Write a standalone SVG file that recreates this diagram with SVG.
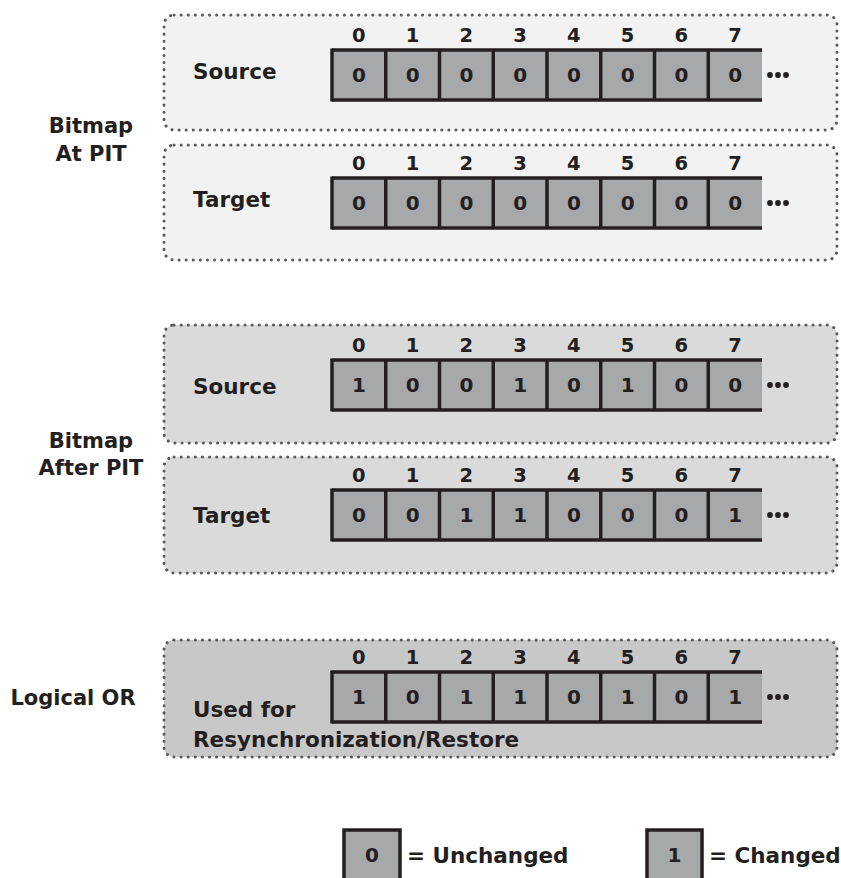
<svg xmlns="http://www.w3.org/2000/svg" width="841" height="878" viewBox="0 0 841 878">
<style>
text{font-family:"DejaVu Sans","Verdana",sans-serif;font-weight:bold;fill:#231f20}
.lbl{font-size:21.5px}
.idx{font-size:19.5px;text-anchor:middle}
.val{font-size:20px;text-anchor:middle}
.side{font-size:21px;text-anchor:middle}
.panel{stroke:#5a5a5a;stroke-width:3;stroke-dasharray:0.1 7;stroke-linecap:round}
.cellbg{fill:#a7a8aa;stroke:none}
.ln{stroke:#231f20;stroke-width:3.5;fill:none}
.dot{fill:#231f20}
</style>
<defs>
<g id="row">
<rect class="cellbg" x="332" y="0" width="430" height="50"/>
<line class="ln" x1="332" y1="0" x2="762" y2="0"/>
<line class="ln" x1="332" y1="50" x2="762" y2="50"/>
<line class="ln" x1="332" y1="-1.5" x2="332" y2="51.5"/>
<line class="ln" x1="385.75" y1="0" x2="385.75" y2="50"/>
<line class="ln" x1="439.5" y1="0" x2="439.5" y2="50"/>
<line class="ln" x1="493.25" y1="0" x2="493.25" y2="50"/>
<line class="ln" x1="547" y1="0" x2="547" y2="50"/>
<line class="ln" x1="600.75" y1="0" x2="600.75" y2="50"/>
<line class="ln" x1="654.5" y1="0" x2="654.5" y2="50"/>
<line class="ln" x1="708.25" y1="0" x2="708.25" y2="50"/>
<circle class="dot" cx="770" cy="25" r="2.9"/>
<circle class="dot" cx="778" cy="25" r="2.9"/>
<circle class="dot" cx="786" cy="25" r="2.9"/>
<text class="idx" x="358.9" y="-8">0</text>
<text class="idx" x="412.6" y="-8">1</text>
<text class="idx" x="466.4" y="-8">2</text>
<text class="idx" x="520.1" y="-8">3</text>
<text class="idx" x="573.9" y="-8">4</text>
<text class="idx" x="627.6" y="-8">5</text>
<text class="idx" x="681.4" y="-8">6</text>
<text class="idx" x="735.1" y="-8">7</text>
</g>
</defs>

<g id="labels">
<text class="side" x="91" y="133">Bitmap</text>
<text class="side" x="91" y="161">At PIT</text>
<text class="side" x="91" y="448">Bitmap</text>
<text class="side" x="91" y="475">After PIT</text>
<text class="side" x="73" y="705">Logical OR</text>
</g>

<g id="p1-source">
<rect class="panel" x="164" y="15" width="673" height="115" rx="10" fill="#f2f2f2"/>
<use href="#row" x="0" y="50"/>
<text class="lbl" x="193" y="79">Source</text>
<text class="val" x="358.9" y="82">0</text><text class="val" x="412.6" y="82">0</text><text class="val" x="466.4" y="82">0</text><text class="val" x="520.1" y="82">0</text><text class="val" x="573.9" y="82">0</text><text class="val" x="627.6" y="82">0</text><text class="val" x="681.4" y="82">0</text><text class="val" x="735.1" y="82">0</text>
</g>

<g id="p2-target">
<rect class="panel" x="164" y="145" width="673" height="115" rx="10" fill="#f2f2f2"/>
<use href="#row" x="0" y="178"/>
<text class="lbl" x="193" y="207">Target</text>
<text class="val" x="358.9" y="210">0</text><text class="val" x="412.6" y="210">0</text><text class="val" x="466.4" y="210">0</text><text class="val" x="520.1" y="210">0</text><text class="val" x="573.9" y="210">0</text><text class="val" x="627.6" y="210">0</text><text class="val" x="681.4" y="210">0</text><text class="val" x="735.1" y="210">0</text>
</g>

<g id="p3-source-after">
<rect class="panel" x="164" y="325" width="673" height="118" rx="10" fill="#dadadb"/>
<use href="#row" x="0" y="360"/>
<text class="lbl" x="193" y="394">Source</text>
<text class="val" x="358.9" y="392">1</text><text class="val" x="412.6" y="392">0</text><text class="val" x="466.4" y="392">0</text><text class="val" x="520.1" y="392">1</text><text class="val" x="573.9" y="392">0</text><text class="val" x="627.6" y="392">1</text><text class="val" x="681.4" y="392">0</text><text class="val" x="735.1" y="392">0</text>
</g>

<g id="p4-target-after">
<rect class="panel" x="164" y="457" width="673" height="116" rx="10" fill="#dadadb"/>
<use href="#row" x="0" y="490"/>
<text class="lbl" x="193" y="523">Target</text>
<text class="val" x="358.9" y="522">0</text><text class="val" x="412.6" y="522">0</text><text class="val" x="466.4" y="522">1</text><text class="val" x="520.1" y="522">1</text><text class="val" x="573.9" y="522">0</text><text class="val" x="627.6" y="522">0</text><text class="val" x="681.4" y="522">0</text><text class="val" x="735.1" y="522">1</text>
</g>

<g id="p5-or">
<rect class="panel" x="164" y="640" width="673" height="117" rx="10" fill="#c8c8c9"/>
<use href="#row" x="0" y="672"/>
<text class="lbl" x="193" y="717">Used for</text>
<text class="lbl" x="193" y="747">Resynchronization/Restore</text>
<text class="val" x="358.9" y="704">1</text><text class="val" x="412.6" y="704">0</text><text class="val" x="466.4" y="704">1</text><text class="val" x="520.1" y="704">1</text><text class="val" x="573.9" y="704">0</text><text class="val" x="627.6" y="704">1</text><text class="val" x="681.4" y="704">0</text><text class="val" x="735.1" y="704">1</text>
</g>

<g id="legend-unchanged">
<rect x="344" y="830" width="56" height="60" fill="#a7a8aa" stroke="#231f20" stroke-width="3.5"/>
<text class="val" x="372" y="862">0</text>
<text class="lbl" x="407" y="863">= Unchanged</text>
</g>
<g id="legend-changed">
<rect x="647" y="830" width="55" height="60" fill="#a7a8aa" stroke="#231f20" stroke-width="3.5"/>
<text class="val" x="674.5" y="862">1</text>
<text class="lbl" x="709" y="863">= Changed</text>
</g>
<g id="connectors"/>
</svg>
